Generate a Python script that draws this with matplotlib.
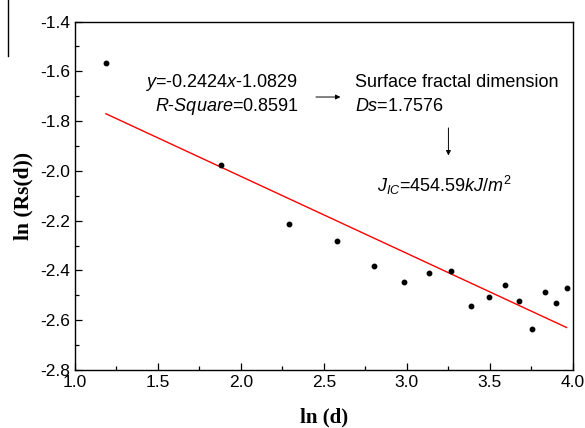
import numpy as np
import matplotlib.pyplot as plt
from matplotlib.lines import Line2D
from matplotlib.ticker import MultipleLocator

plt.rcParams["font.family"] = "Liberation Sans"
plt.rcParams["axes.unicode_minus"] = False
plt.rcParams["mathtext.fontset"] = "custom"
plt.rcParams["mathtext.rm"] = "Liberation Sans"
plt.rcParams["mathtext.it"] = "Liberation Sans:italic"

# data
ln_d = [1.187, 1.881, 2.290, 2.577, 2.800, 2.983, 3.136, 3.269,
        3.388, 3.494, 3.589, 3.675, 3.756, 3.830, 3.898, 3.963]
ln_rs = [-1.566, -1.976, -2.212, -2.283, -2.382, -2.446, -2.411, -2.401,
         -2.541, -2.507, -2.457, -2.524, -2.636, -2.488, -2.532, -2.469]

fig = plt.figure(figsize=(5.85, 4.28), dpi=100)
ax = fig.add_axes([0.128, 0.1355, 0.851, 0.814])

ax.plot(ln_d, ln_rs, "o", color="black", markersize=3.2, zorder=3)

# linear fit
k, b = np.polyfit(ln_d, ln_rs, 1)
xf = np.array([ln_d[0], ln_d[-1]])
ax.plot(xf, k * xf + b, color="red", lw=1.0)

ax.set_xlim(1.0, 4.0)
ax.set_ylim(-2.8, -1.4)
ax.xaxis.set_major_locator(MultipleLocator(0.5))
ax.xaxis.set_minor_locator(MultipleLocator(0.25))
ax.yaxis.set_major_locator(MultipleLocator(0.2))
ax.yaxis.set_minor_locator(MultipleLocator(0.1))
ax.tick_params(which="both", direction="in", top=False, right=False,
               labelsize=12.5, width=0.9)
ax.tick_params(which="major", length=5)
ax.tick_params(which="minor", length=3)
for s in ax.spines.values():
    s.set_linewidth(1.0)

ax.set_xlabel("ln (d)", family="Liberation Serif", fontweight="bold",
              fontsize=15, labelpad=13)
ax.set_ylabel("ln (Rs(d))", family="Liberation Serif", fontweight="bold",
              fontsize=15.5, labelpad=5)

# annotations
fs = 13
ax.text(2.345, -1.646, r"$y$=-0.2424$x$-1.0829", fontsize=fs, ha="right", va="center")
ax.text(2.345, -1.743, r"$R$-$Square$=0.8591", fontsize=fs, ha="right", va="center")
ax.annotate("", xy=(2.617, -1.703), xytext=(2.436, -1.703),
            arrowprops=dict(arrowstyle="-|>", lw=0.7, color="black", mutation_scale=7))
ax.text(2.69, -1.646, "Surface fractal dimension", fontsize=fs, ha="left", va="center")
ax.text(2.69, -1.743, r"$Ds$=1.7576", fontsize=fs, ha="left", va="center")
ax.annotate("", xy=(3.251, -1.949), xytext=(3.251, -1.816),
            arrowprops=dict(arrowstyle="-|>", lw=0.7, color="black", mutation_scale=7))
ax.text(2.82, -2.057, r"$J_{IC}$=454.59$kJ/m^2$", fontsize=fs, ha="left", va="center")

# stray vertical rule at the top left of the scan
fig.add_artist(Line2D([0.014, 0.014], [1.0, 0.87], color="black", lw=1.0))

fig.savefig("out.png", dpi=100)
